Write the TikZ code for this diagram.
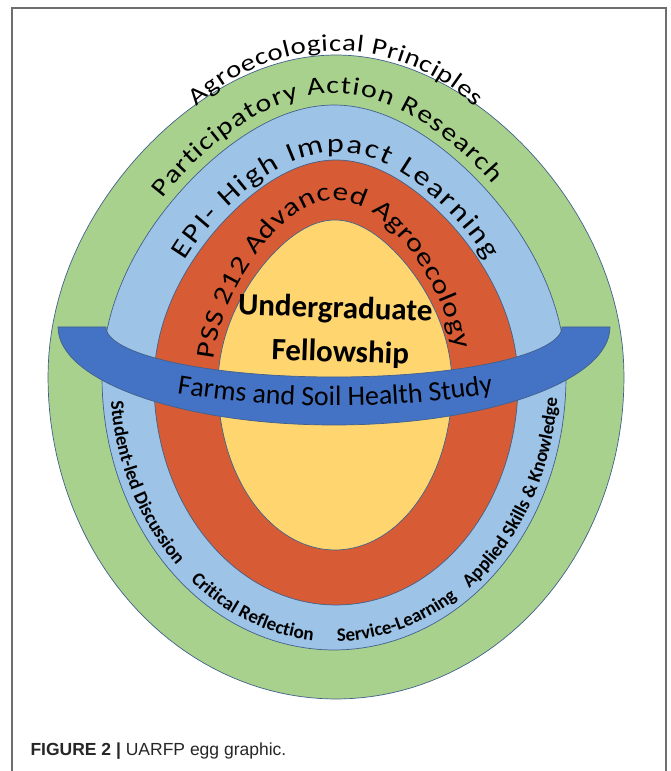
\documentclass[tikz,border=0pt]{standalone}
\usepackage{fontspec}
\setmainfont{Carlito}
\newfontfamily\archfont[FakeStretch=1.2]{Carlito}
\newfontfamily\captionfont{Liberation Sans}
\usetikzlibrary{decorations.text}

\definecolor{outerGreen}{RGB}{169,209,142}
\definecolor{paleBlue}{RGB}{157,195,230}
\definecolor{brickRed}{RGB}{215,92,53}
\definecolor{eggYellow}{RGB}{255,213,112}
\definecolor{bandBlue}{RGB}{68,114,196}
\definecolor{ringEdge}{RGB}{66,96,138}
\definecolor{frameGray}{RGB}{110,110,110}

\tikzset{
  ring/.style={draw=ringEdge, line width=0.7pt},
  archlabel/.style={decorate, decoration={text along path, text align=fit to path, text={|\archfont\fontsize{#1}{#1}\selectfont|\archtext}}},
  bandlabel/.style={decorate, decoration={text along path, text align=center, text={|\fontsize{#1}{#1}\selectfont|\archtext}}},
  rimlabel/.style={decorate, decoration={text along path, text align=center, text={|\bfseries\fontsize{19}{19}\selectfont|\archtext}}}
}

% egg: upper half pinched by k, lower half a plain half ellipse
\newcommand{\eggring}[6]{% fill, cx, cy, a, b, k
  \draw[ring, fill=#1] plot[domain=0:180, samples=90, variable=\t] ({#2+#4*cos(\t)*(1-#6*sin(\t)^2)}, {#3+#5*sin(\t)})
    -- plot[domain=180:360, samples=90, variable=\t] ({#2+#4*cos(\t)}, {#3+#5*sin(\t)}) -- cycle;}

\begin{document}
\begin{tikzpicture}[x=1pt, y=1pt]
    \useasboundingbox (0,0) rectangle (670,771);

    % frame
    \draw[frameGray, line width=1.2pt] (12,0) -- (12,763) -- (666,763) -- (666,0);

    % egg rings
    \eggring{outerGreen}{336}{394}{288}{322}{0.12}
    \eggring{paleBlue}{334}{393.5}{232}{272.5}{0.2}
    \eggring{brickRed}{336}{388.5}{182}{222.5}{0.2}
    \eggring{eggYellow}{335}{386}{117}{165}{0.2}

    % band across the egg
    \draw[ring, fill=bandBlue] (58,444) -- (106,444)
        arc[start angle=180, end angle=360, x radius=228, y radius=50] -- (610,444)
        arc[start angle=0, end angle=-180, x radius=276, y radius=98] -- cycle;

    % arched labels
    \def\archtext{Agroecological Principles}
    \path[shift={(336,520)}, archlabel=24] (134:200) arc[start angle=134, end angle=46, radius=200];
    \def\archtext{Participatory Action Research}
    \path[archlabel=25] plot[domain=141:43, samples=60, variable=\t] ({334+240*cos(\t)*(1-0.2*sin(\t)^2)}, {393.5+284*sin(\t)});
    \def\archtext{EPI- High Impact Learning}
    \path[archlabel=27] plot[domain=148:32, samples=60, variable=\t] ({336+189*cos(\t)*(1-0.2*sin(\t)^2)}, {388.5+230.5*sin(\t)});
    \def\archtext{PSS 212 Advanced Agroecology}
    \path[archlabel=26] plot[domain=172:11, samples=60, variable=\t] ({335+123*cos(\t)*(1-0.2*sin(\t)^2)}, {386+185*sin(\t)});
    \def\archtext{Farms and Soil Health Study}
    \path[shift={(335,1334)}, bandlabel=28] (259:969) arc[start angle=259, end angle=281, radius=969];

    % labels round the bottom
    \def\archtext{Student-led Discussion}
    \path[shift={(334,393.5)}, rimlabel] (180:224 and 264) arc[start angle=180, end angle=231, x radius=224, y radius=264];
    \def\archtext{Critical Reflection}
    \path[shift={(334,393.5)}, rimlabel] (227:224 and 264) arc[start angle=227, end angle=268, x radius=224, y radius=264];
    \def\archtext{Service-Learning}
    \path[shift={(334,393.5)}, rimlabel] (267:224 and 264) arc[start angle=267, end angle=307, x radius=224, y radius=264];
    \def\archtext{Applied Skills {\&} Knowledge}
    \path[shift={(334,393.5)}, rimlabel] (300:224 and 264) arc[start angle=300, end angle=362, x radius=224, y radius=264];

    % centre of the egg
    \node[font=\bfseries\fontsize{31}{36}\selectfont, anchor=base, rotate=-2] (under) at (335,453) {Undergraduate};
    \node[font=\bfseries\fontsize{31}{36}\selectfont, anchor=base, rotate=-2] (fellow) at (340,409) {Fellowship};

    % caption
    \node[anchor=base west, font=\captionfont\fontsize{17.5}{20}\selectfont, text=black!85] (caption) at (27,16) {\textbf{FIGURE 2 |} UARFP egg graphic.};
\end{tikzpicture}
\end{document}
